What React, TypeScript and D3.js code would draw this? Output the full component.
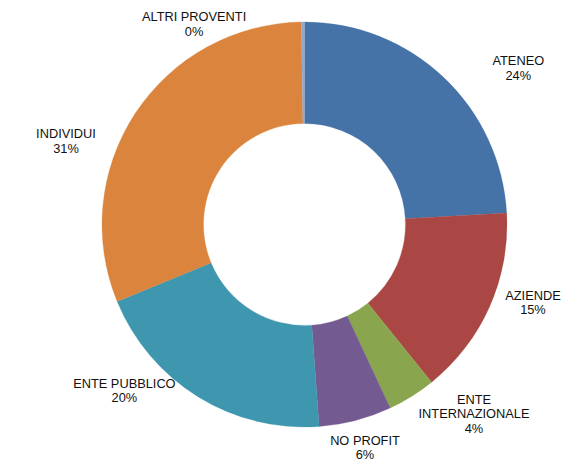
import { pie, arc } from "d3";

const categories = [
  "ATENEO",
  "AZIENDE",
  "ENTE INTERNAZIONALE",
  "NO PROFIT",
  "ENTE PUBBLICO",
  "INDIVIDUI",
  "ALTRI PROVENTI",
];
const shares = [24.1, 15.1, 3.85, 5.8, 19.95, 30.95, 0.25];
const percentLabels = ["24%", "15%", "4%", "6%", "20%", "31%", "0%"];
const sliceColors = ["#4572A7", "#AA4643", "#89A54E", "#735A91", "#3F97AF", "#DB843D", "#92A8CD"];

// label layout: angular shift from slice middle (deg) and distance from centre
const labelShift = [10.4, -5.1, -9.95, -0.6, 15.6, -14.1, -28.4];
const labelDist = [265, 241.4, 253.8, 230.9, 244.8, 252.7, 228.8];

const W = 563;
const H = 462;
const cx = 304.5;
const cy = 224.5;
const outerR = 202.5;
const innerR = 101;
const fontSize = 12.8;
const lineH = 14.5;
const capH = 9.2;

type Row = { name: string; value: number; pct: string; color: string; i: number };

export default function App() {
  const rows: Row[] = categories.map((c, i) => ({
    name: c,
    value: shares[i],
    pct: percentLabels[i],
    color: sliceColors[i],
    i,
  }));

  const arcs = pie<Row>()
    .sort(null)
    .value((d) => d.value)(rows);

  const arcGen = arc<any>().innerRadius(innerR).outerRadius(outerR);

  return (
    <svg
      width={W}
      height={H}
      style={{ position: "absolute", left: 0, top: 0, background: "#fff" }}
      fontFamily="'Liberation Sans', Arial, sans-serif"
    >
      <g transform={`translate(${cx},${cy})`}>
        {arcs.map((a) => (
          <path key={a.data.name} d={arcGen(a) || ""} fill={a.data.color} stroke={a.data.color} strokeWidth={0.3} />
        ))}
      </g>
      {arcs.map((a) => {
        const i = a.data.i;
        const mid = (a.startAngle + a.endAngle) / 2 + (labelShift[i] * Math.PI) / 180;
        const x = cx + Math.sin(mid) * labelDist[i];
        const yc = cy - Math.cos(mid) * labelDist[i];
        // wrap the long name onto two lines
        const lines = a.data.name === "ENTE INTERNAZIONALE" ? ["ENTE", "INTERNAZIONALE"] : [a.data.name];
        const all = [...lines, a.data.pct];
        const first = yc - ((all.length - 1) * lineH) / 2 + capH / 2;
        return (
          <text key={"l" + i} textAnchor="middle" fontSize={fontSize} fill="#111">
            {all.map((t, k) => (
              <tspan key={k} x={x} y={first + k * lineH}>
                {t}
              </tspan>
            ))}
          </text>
        );
      })}
    </svg>
  );
}
